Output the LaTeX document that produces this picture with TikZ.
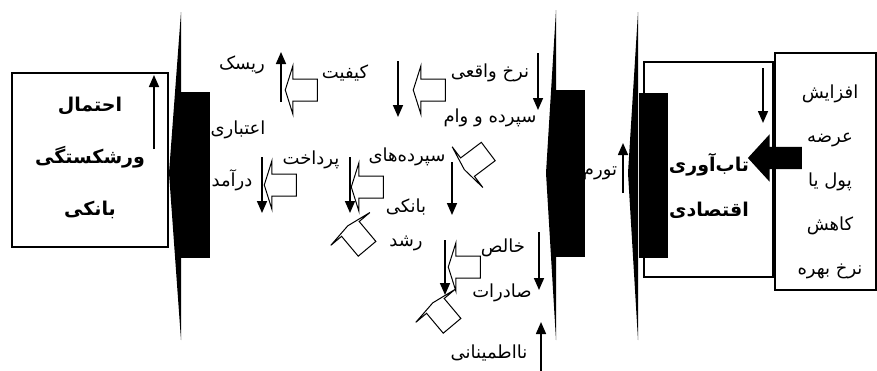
\documentclass[tikz,border=0pt]{standalone}
\usepackage{fontspec}
\newfontfamily\arabicfont[Script=Arabic]{DejaVu Sans}
\TeXXeTstate=1
\usetikzlibrary{arrows.meta, shapes.arrows}

\begin{document}
\begin{tikzpicture}[x=1pt, y=-1pt,
    lbl/.style={font=\arabicfont\fontsize{18}{20}\selectfont, inner sep=0pt},
    boxt/.style={font=\arabicfont\bfseries\fontsize{19}{#1}\selectfont, align=center, inner sep=0pt},
    panel/.style={draw, line width=1.2pt, inner sep=0pt},
    ind/.style={-{Triangle[length=12pt, width=10pt]}, line width=1.6pt},
    hollow/.style={single arrow, draw, line width=1pt, fill=white, inner xsep=0pt, inner ysep=10.5pt, minimum height=32pt, single arrow head extend=13.5pt, single arrow tip angle=145, rotate=#1},
    hollow/.default=180,
    tilted/.style={hollow=#1, minimum height=30pt, inner ysep=11pt, single arrow head extend=14pt, single arrow tip angle=162},
    push/.style={single arrow, fill=black, inner xsep=0pt, inner ysep=11pt, minimum height=54pt, single arrow head extend=12.5pt, single arrow tip angle=95, rotate=180}
]
\useasboundingbox (0,0) rectangle (877,370);

% boxes
\node[panel, minimum width=156pt, minimum height=174pt] (fail) at (90,160) {};
\node[boxt=52] (failt) at (90,158) {\beginR احتمال\endR\\\beginR ورشکستگی\endR\\\beginR بانکی\endR};
\node[panel, minimum width=129pt, minimum height=215pt] (resil) at (708.5,169.5) {};
\node[boxt=45] (resilt) at (709,185.5) {\beginR تاب‌آوری\endR\\\beginR اقتصادی\endR};
\node[panel, minimum width=101pt, minimum height=237pt] (money) at (825.5,171.5) {};
\node[lbl, align=center, font=\arabicfont\fontsize{18}{44}\selectfont] (moneyt) at (830,182) {\beginR افزایش\endR\\\beginR عرضه\endR\\\beginR پول یا\endR\\\beginR کاهش\endR\\\beginR نرخ بهره\endR};
\node[push] (shock) at (780,158) {};

% walls
\fill (181,12) -- (169,173) -- (181,340) -- cycle;
\fill (181,92) rectangle (210,258);
\fill (556,10) -- (546,173) -- (556,340) -- cycle;
\fill (556,90) rectangle (585,257);
\fill (638,12) -- (628,173) -- (638,340) -- cycle;
\fill (639,93) rectangle (668,258);

% channels
\node[hollow] (q1) at (303,90) {};
\node[hollow] (q2) at (431,90) {};
\node[hollow] (q3) at (282,185) {};
\node[hollow] (q4) at (369,187) {};
\node[hollow] (q5) at (466,267) {};
\node[tilted=217] (q6) at (477,160) {};
\node[tilted=130] (q7) at (358,238) {};
\node[tilted=130] (q8) at (443,315) {};

\node[lbl] (risk) at (242,65) {\beginR ریسک\endR};
\node[lbl] (qual) at (345,73) {\beginR کیفیت\endR};
\node[lbl] (real) at (490,73) {\beginR نرخ واقعی\endR};
\node[lbl] (dep) at (490,118) {\beginR سپرده و وام\endR};
\node[lbl] (cred) at (238,130) {\beginR اعتباری\endR};
\node[lbl] (pay) at (311,160) {\beginR پرداخت\endR};
\node[lbl] (deps) at (407,157) {\beginR سپرده‌های\endR};
\node[lbl] (inc) at (232,180) {\beginR درآمد\endR};
\node[lbl] (bank) at (406,207) {\beginR بانکی\endR};
\node[lbl] (grow) at (406,243) {\beginR رشد\endR};
\node[lbl] (net) at (503,248) {\beginR خالص\endR};
\node[lbl] (exp) at (502,293) {\beginR صادرات\endR};
\node[lbl] (unc) at (489,353) {\beginR نااطمینانی\endR};
\node[lbl] (infl) at (600,173) {\beginR تورم\endR};

% up / down
\draw[ind] (154,149) -- (154,75);
\draw[ind] (281,102) -- (281,52);
\draw[ind] (398,61) -- (398,117);
\draw[ind] (538,53) -- (538,110);
\draw[ind] (262,157) -- (262,213);
\draw[ind] (350,157) -- (350,213);
\draw[ind] (452,162) -- (452,215);
\draw[ind] (445,240) -- (445,295);
\draw[ind] (539,232) -- (539,290);
\draw[ind] (541,372) -- (541,322);
\draw[ind] (623,193) -- (623,143);
\draw[ind] (763,68) -- (763,123);

\end{tikzpicture}
\end{document}
